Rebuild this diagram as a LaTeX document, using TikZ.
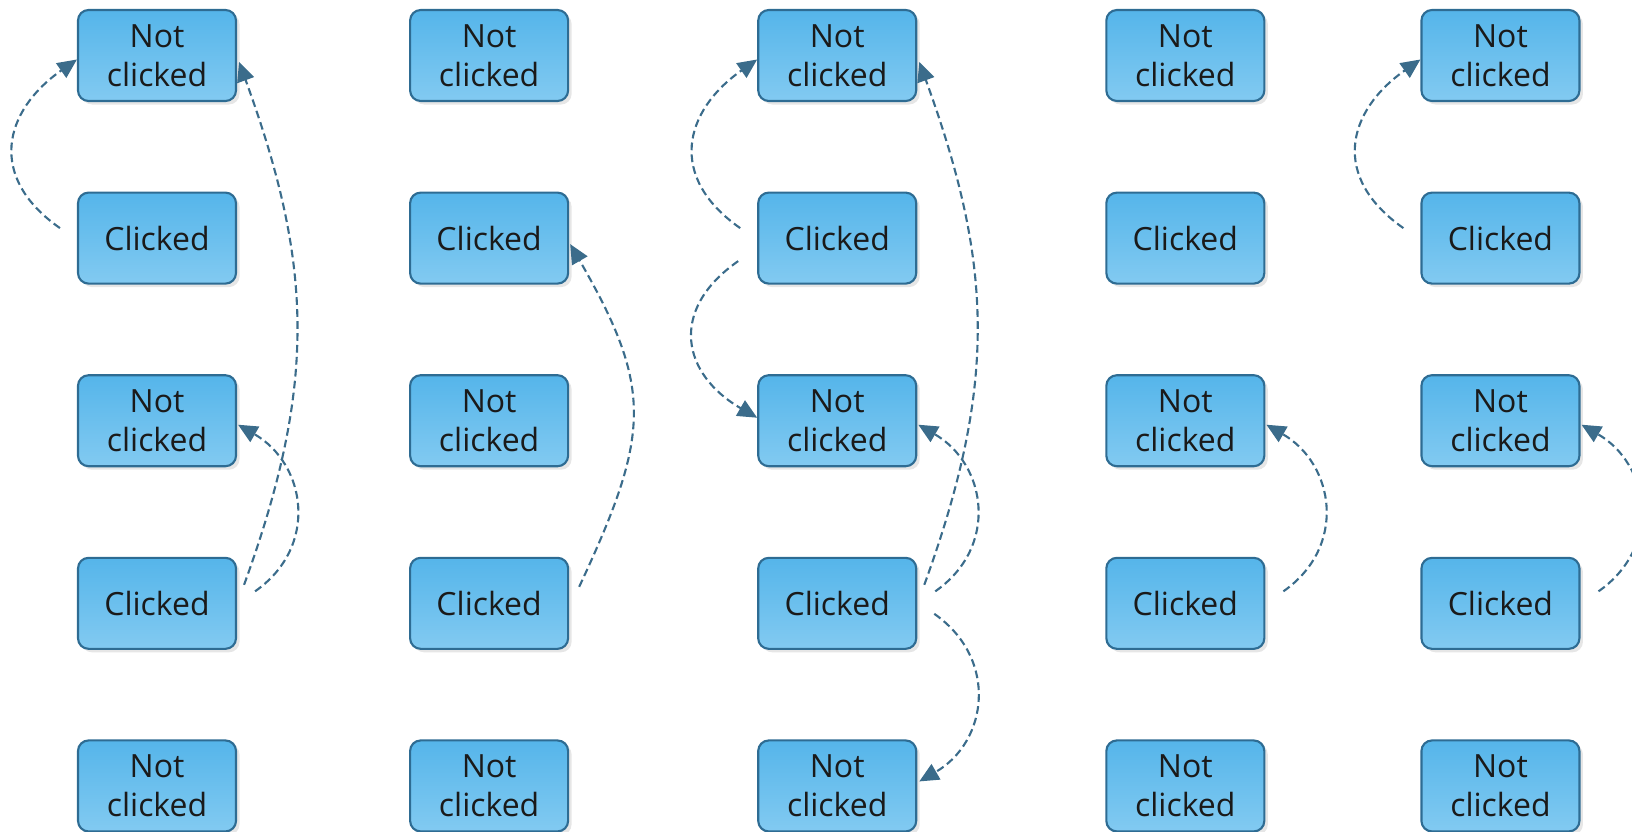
\documentclass[tikz,border=0pt]{standalone}
\usepackage{fontspec}
\setmainfont{Open Sans}
\usepackage{tikz}
\usetikzlibrary{matrix}
\usetikzlibrary{arrows.meta}
\usetikzlibrary{shadows}
\definecolor{boxtop}{HTML}{55B5EA}
\definecolor{boxbot}{HTML}{82CAF1}
\definecolor{boxline}{HTML}{2E6C93}
\definecolor{linkline}{HTML}{3B6C8B}
\definecolor{textdark}{HTML}{1A1A1A}

\begin{document}
\begin{tikzpicture}

\tikzset{state grid/.style={
    matrix of nodes, column sep=1.55cm, row sep=0.895cm,
    nodes={draw=boxline, line width=0.6pt, rounded corners=3pt,
      top color=boxtop, bottom color=boxbot, text=textdark,
      drop shadow={shadow xshift=0.035cm, shadow yshift=-0.035cm, opacity=0.2},
      minimum height=0.91cm, minimum width=1.58cm, text width=1.3cm,
      anchor=center, align=center, inner sep=0pt,
      font=\fontsize{9.1}{11.2}\selectfont
    },
  },
  hop/.style={draw=linkline, line width=0.6pt, dash pattern=on 2.2pt off 1.2pt,
    -{Triangle[length=5.5pt,width=5pt]}},
  up left/.style={out=145, in=215, looseness=1.35},
  down left/.style={out=215, in=150, looseness=1.4},
  long right/.style={out=70, in=290, looseness=1.05},
  short right/.style={out=35, in=-30, looseness=1.2},
  short down/.style={out=-35, in=30, looseness=1.2}
}

\useasboundingbox (0,0) rectangle (16.32,-8.32);
\clip (0,0) rectangle (16.32,-8.32);

\matrix (grid) [state grid, anchor=grid-1-1.center] at (1.57,-0.555) {
Not clicked &[0.17cm] Not clicked &[0.33cm] Not clicked &[0.33cm] Not clicked & Not clicked \\
Clicked & Clicked & Clicked & Clicked & Clicked \\
Not clicked & Not clicked & Not clicked & Not clicked & Not clicked \\
Clicked & Clicked & Clicked & Clicked & Clicked \\
Not clicked & Not clicked & Not clicked & Not clicked & Not clicked \\
};

% first column
\draw[hop] ([shift={(-0.17,0.1)}]grid-2-1.west) to[up left] ([yshift=-0.04cm]grid-1-1.west);
\draw[hop] ([shift={(0.07,0.185)}]grid-4-1.east) to[long right] ([shift={(0.02,-0.065)}]grid-1-1.east);
\draw[hop] ([shift={(0.18,0.12)}]grid-4-1.east) to[short right] ([shift={(0.01,-0.04)}]grid-3-1.east);

% second column
\draw[hop] ([shift={(0.1,0.165)}]grid-4-2.east) to[out=65, in=300, looseness=1.25] ([shift={(0.01,-0.06)}]grid-2-2.east);

% third column
\draw[hop] ([shift={(-0.17,0.1)}]grid-2-3.west) to[up left] ([yshift=-0.04cm]grid-1-3.west);
\draw[hop] ([shift={(-0.19,-0.23)}]grid-2-3.west) to[down left] ([yshift=0.03cm]grid-3-3.west);
\draw[hop] ([shift={(0.07,0.185)}]grid-4-3.east) to[long right] ([shift={(0.02,-0.065)}]grid-1-3.east);
\draw[hop] ([shift={(0.18,0.12)}]grid-4-3.east) to[short right] ([shift={(0.01,-0.04)}]grid-3-3.east);
\draw[hop] ([shift={(0.17,-0.105)}]grid-4-3.east) to[short down] ([shift={(0.02,0.045)}]grid-5-3.east);

% fourth column
\draw[hop] ([shift={(0.18,0.12)}]grid-4-4.east) to[short right] ([shift={(0.01,-0.04)}]grid-3-4.east);

% fifth column
\draw[hop] ([shift={(-0.17,0.1)}]grid-2-5.west) to[up left] ([yshift=-0.04cm]grid-1-5.west);
\draw[hop] ([shift={(0.18,0.12)}]grid-4-5.east) to[short right] ([shift={(0.01,-0.04)}]grid-3-5.east);
\end{tikzpicture}
\end{document}
